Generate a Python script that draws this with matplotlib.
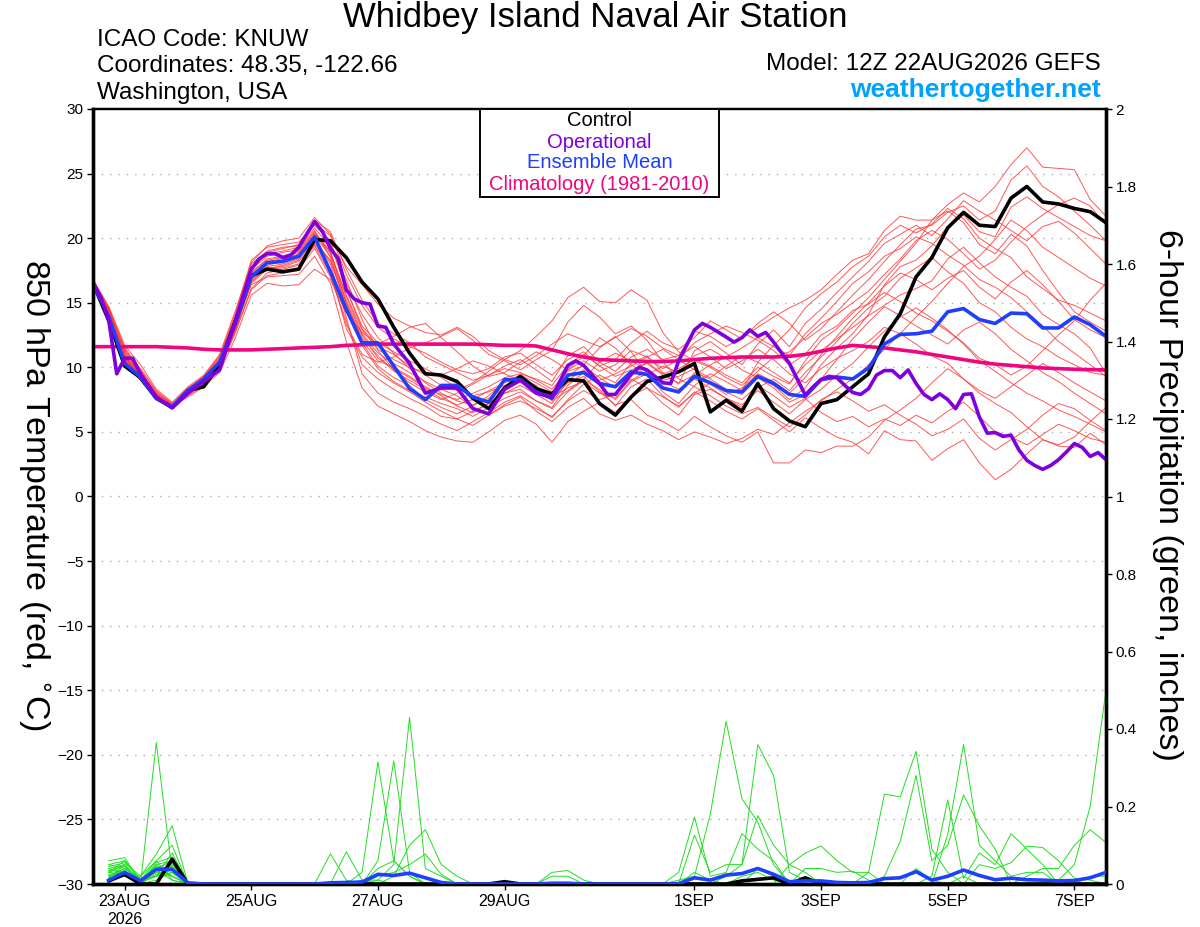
import matplotlib
matplotlib.use("Agg")
import matplotlib.pyplot as plt
from matplotlib.patches import Rectangle
from datetime import datetime
import numpy as np

plt.rcParams['font.family'] = ['Liberation Sans', 'DejaVu Sans']

# ---------------- DATA ----------------
RUN_TIME = datetime(2026, 8, 22, 12)
STEP_H = 6
N_STEPS = 65  # 0..384 h

tick_dates = [datetime(2026, 8, 23), datetime(2026, 8, 25), datetime(2026, 8, 27),
              datetime(2026, 8, 29), datetime(2026, 9, 1), datetime(2026, 9, 3),
              datetime(2026, 9, 5), datetime(2026, 9, 7)]
tick_labels = ["23AUG\n2026", "25AUG", "27AUG", "29AUG", "1SEP", "3SEP", "5SEP", "7SEP"]

control_t = [16.5, 13.6, 10.1, 9.2, 7.6, 6.9, 8.2, 8.5, 10.2, 13.6, 17.1, 17.6, 17.4, 17.6, 19.9, 19.8,
             18.5, 16.6, 15.3, 13.1, 11.1, 9.5, 9.4, 8.9, 7.6, 6.8, 8.4, 9.3, 8.35, 7.95, 9.05, 8.95,
             7.2, 6.3, 7.7, 8.9, 9.25, 9.65, 10.3, 6.55, 7.45, 6.6, 8.75, 6.8, 5.85, 5.4,
             7.2, 7.5, 8.5, 9.5, 12.35, 14.15, 17.0, 18.5, 20.8, 22.0, 21.0, 20.9, 23.1, 24.0, 22.8,
             22.65, 22.3, 22.05, 21.2]

mean_t = [16.5, 13.9, 10.3, 9.25, 7.6, 6.95, 8.2, 9.1, 10.4, 13.4, 17.0, 18.1, 18.2, 18.6, 20.1, 17.4,
          14.5, 11.9, 11.9, 10.1, 8.35, 7.5, 8.6, 8.6, 7.7, 7.3, 9.05, 9.05, 8.1, 7.6, 9.4, 9.6,
          8.75, 8.5, 9.65, 9.45, 8.4, 8.1, 9.3, 8.8, 8.2, 8.1, 9.3, 8.75, 7.9, 7.75,
          9.05, 9.25, 9.1, 9.95, 11.8, 12.55, 12.6, 12.8, 14.3, 14.55, 13.7, 13.4, 14.2, 14.15, 13.05,
          13.05, 13.9, 13.3, 12.4]

clim_t = [11.6, 11.6, 11.6, 11.6, 11.6, 11.55, 11.5, 11.4, 11.35, 11.35, 11.35, 11.4, 11.45, 11.5, 11.55, 11.6,
          11.7, 11.75, 11.8, 11.8, 11.8, 11.8, 11.8, 11.8, 11.8, 11.75, 11.7, 11.7, 11.65, 11.35, 11.05, 10.8,
          10.6, 10.55, 10.5, 10.45, 10.45, 10.5, 10.6, 10.7, 10.75, 10.8, 10.8, 10.8, 10.85, 11.0, 11.25, 11.5,
          11.7, 11.6, 11.5, 11.35, 11.2, 11.0, 10.8, 10.6, 10.4, 10.25, 10.15, 10.05, 9.95, 9.9, 9.85, 9.82, 9.8]

# operational run (3-hourly where detail is visible)
oper_hours = [0, 3, 6, 9, 12, 15, 18, 24, 30, 36, 42, 48, 54, 60, 63, 66, 69, 72, 75, 78, 84, 87, 90, 93,
              96, 99, 102, 105, 108, 111, 114, 120, 126, 132, 138, 144, 150, 156, 162, 168, 174, 180,
              183, 186, 192, 195, 198, 204, 207, 210, 216, 219, 222, 228, 231, 234, 240, 243, 246, 249,
              252, 255, 258, 264, 270, 273, 276, 279, 282, 285, 288, 291, 294, 297, 300, 303, 306, 309,
              312, 315, 318, 321, 324, 327, 330, 333, 336, 339, 342, 345, 348, 351, 354, 357, 360, 363,
              366, 369, 372, 375, 378, 381, 384]
oper_t = [16.6, 15.4, 13.6, 9.5, 10.7, 10.7, 9.5, 7.7, 6.85, 8.0, 8.9, 9.8, 13.6, 17.6, 18.4, 18.8, 18.8,
          18.5, 18.7, 19.3, 21.3, 20.5, 19.2, 18.4, 16.0, 15.3, 15.0, 14.9, 13.2, 13.1, 11.8, 10.3, 8.0,
          8.4, 8.4, 6.8, 6.4, 8.3, 9.0, 8.0, 7.7, 10.15, 10.5, 10.15, 8.75, 7.9, 7.9, 9.45, 10.0, 9.8,
          8.8, 8.75, 10.5, 12.9, 13.4, 13.1, 12.35, 11.95, 12.3, 12.9, 12.4, 12.7, 11.95, 10.3, 7.85,
          8.5, 9.05, 9.3, 9.2, 8.6, 8.05, 7.9, 8.35, 9.4, 9.75, 9.75, 9.2, 9.8, 8.75, 7.9, 7.5, 7.95,
          7.5, 6.8, 7.9, 7.95, 6.15, 4.9, 4.95, 4.65, 4.75, 3.6, 2.8, 2.4, 2.1, 2.4, 2.85, 3.45, 4.1,
          3.8, 3.1, 3.4, 2.85]

member_t = [
    [16.6, 14.5, 11.2, 9.6, 8.0, 7.1, 8.0, 9.2, 10.6, 13.8, 17.5, 18.9, 19.2, 19.5, 21.4, 20.5,
     17.6, 15.2, 13.4, 12.6, 11.9, 10.8, 10.2, 9.6, 9.0, 9.4, 10.1, 10.6, 9.8, 8.9, 10.9, 11.6,
     10.4, 9.7, 10.8, 11.4, 10.6, 10.9, 12.8, 12.4, 11.6, 12.3, 13.1, 13.9, 14.6, 15.2, 16.0, 17.2,
     18.3, 18.8, 20.6, 21.7, 21.4, 21.4, 22.6, 23.5, 22.8, 24.0, 25.7, 27.0, 25.5, 25.4, 25.3, 23.0, 21.7],
    [16.4, 14.0, 10.6, 9.3, 7.6, 6.9, 8.3, 9.0, 10.1, 13.0, 16.6, 17.8, 18.0, 18.4, 20.3, 19.0,
     15.0, 12.1, 10.5, 10.0, 9.3, 8.5, 7.8, 7.0, 6.5, 7.2, 8.0, 8.6, 7.9, 7.2, 9.0, 9.8,
     8.6, 7.5, 8.9, 9.5, 8.4, 8.0, 9.6, 9.1, 8.3, 7.9, 9.2, 8.6, 7.5, 8.4, 10.2, 11.5,
     12.6, 14.1, 16.4, 17.8, 18.3, 19.4, 20.9, 21.8, 20.5, 20.1, 22.4, 23.2, 22.3, 21.6, 20.9, 20.2, 19.8],
    [16.7, 14.6, 11.5, 9.9, 8.2, 7.2, 7.8, 8.6, 9.8, 12.7, 16.1, 17.3, 17.6, 17.9, 19.4, 17.2,
     13.3, 11.0, 10.4, 10.8, 11.5, 11.9, 12.4, 13.0, 12.1, 11.0, 10.5, 9.8, 10.6, 11.3, 13.5, 14.8,
     13.9, 12.6, 13.2, 12.1, 10.4, 9.1, 8.5, 7.8, 7.0, 6.4, 6.9, 6.1, 5.4, 6.3, 7.5, 8.1,
     7.4, 6.6, 7.1, 6.3, 5.6, 4.7, 5.2, 6.0, 4.5, 3.6, 4.4, 5.2, 6.3, 7.2, 6.8, 5.9, 5.1],
    [16.5, 14.3, 10.9, 9.5, 7.9, 7.0, 8.4, 9.3, 10.9, 14.2, 18.3, 19.3, 19.5, 19.7, 21.0, 19.8,
     16.1, 13.0, 11.6, 11.0, 10.1, 9.4, 8.6, 8.2, 8.8, 9.7, 10.6, 11.3, 12.4, 13.6, 15.4, 16.2,
     15.1, 15.0, 16.0, 15.2, 12.7, 11.2, 10.5, 10.0, 9.2, 8.6, 9.7, 10.8, 11.2, 12.3, 13.4, 14.1,
     15.0, 15.9, 17.2, 18.4, 19.8, 20.6, 19.9, 18.8, 17.6, 18.3, 19.7, 20.9, 21.8, 22.6, 23.1, 22.5, 21.0],
    [16.6, 14.1, 10.7, 9.1, 7.7, 7.1, 8.1, 8.8, 10.0, 13.1, 16.9, 17.9, 18.2, 18.5, 20.0, 18.0,
     13.9, 9.5, 8.0, 7.3, 6.8, 6.2, 5.6, 5.1, 5.8, 6.5, 7.3, 7.8, 7.0, 6.1, 7.5, 8.7,
     9.4, 8.8, 10.3, 10.9, 9.6, 8.7, 11.3, 12.0, 11.1, 10.2, 11.8, 12.9, 11.6, 13.4, 14.5, 15.8,
     17.0, 18.2, 19.6, 20.3, 21.0, 20.2, 21.5, 22.9, 22.1, 21.4, 20.6, 19.8, 20.9, 21.3, 20.4, 19.2, 18.0],
    [16.3, 13.8, 10.4, 9.0, 7.5, 6.9, 7.9, 8.9, 10.4, 13.5, 17.2, 18.2, 18.4, 18.7, 20.2, 19.4,
     16.5, 14.1, 12.3, 11.1, 9.9, 8.8, 8.0, 7.4, 7.1, 7.6, 8.4, 9.1, 8.5, 7.9, 9.8, 10.5,
     9.7, 10.2, 11.3, 10.8, 9.9, 10.6, 11.9, 12.6, 13.2, 12.7, 12.1, 11.3, 10.2, 11.0, 12.5, 13.2,
     14.4, 14.9, 15.8, 15.1, 14.2, 13.6, 12.8, 11.9, 10.7, 10.2, 9.4, 10.1, 11.3, 12.5, 13.6, 15.2, 16.5],
    [16.5, 14.4, 11.3, 9.7, 7.8, 7.0, 8.0, 8.7, 10.2, 13.2, 16.4, 17.0, 17.1, 17.2, 18.6, 16.5,
     12.0, 8.4, 7.0, 6.4, 5.8, 5.1, 4.6, 4.3, 4.2, 5.0, 5.9, 6.3, 5.6, 4.2, 5.8, 6.6,
     7.3, 6.5, 7.8, 8.4, 7.2, 6.3, 7.9, 8.3, 7.6, 6.9, 8.4, 9.1, 8.2, 9.6, 10.8, 12.0,
     13.4, 14.6, 15.5, 16.9, 17.7, 18.5, 17.4, 16.5, 15.0, 14.3, 13.1, 12.2, 11.6, 10.8, 10.2, 9.6, 9.4],
    [16.8, 14.7, 11.7, 10.2, 8.3, 7.3, 8.5, 9.4, 11.0, 14.4, 18.0, 19.0, 19.3, 19.4, 21.1, 20.2,
     17.8, 16.4, 14.9, 13.8, 13.2, 12.7, 12.5, 13.1, 12.4, 11.3, 10.6, 10.2, 10.9, 11.8, 12.6, 12.1,
     11.6, 12.3, 13.0, 12.4, 11.5, 10.9, 11.6, 10.8, 9.9, 10.5, 11.4, 10.6, 9.5, 8.8, 9.9, 10.7,
     11.3, 12.0, 13.1, 12.6, 11.8, 10.9, 10.3, 9.1, 8.2, 7.6, 8.5, 9.4, 10.3, 9.6, 8.8, 8.1, 7.4],
    [16.4, 13.9, 10.5, 9.2, 7.6, 7.0, 8.2, 9.1, 10.5, 13.6, 17.3, 18.4, 18.6, 19.0, 20.6, 18.5,
     14.6, 11.9, 10.1, 9.2, 8.6, 7.5, 6.9, 6.4, 7.0, 7.8, 8.9, 9.4, 8.8, 8.1, 9.3, 10.2,
     11.5, 12.4, 11.2, 9.5, 8.1, 7.2, 8.6, 9.5, 8.9, 8.2, 10.4, 11.7, 12.9, 14.6, 15.7, 16.6,
     17.8, 18.6, 20.1, 21.0, 20.4, 21.1, 22.3, 21.5, 20.0, 19.2, 18.5, 17.0, 16.1, 15.2, 14.8, 14.2, 13.6],
    [16.6, 14.2, 10.8, 9.4, 7.7, 7.0, 8.0, 8.9, 10.1, 12.8, 16.0, 17.1, 17.3, 17.6, 19.2, 17.0,
     13.6, 10.2, 9.1, 8.3, 7.6, 7.0, 6.2, 6.0, 6.6, 7.2, 8.0, 8.3, 7.4, 6.8, 8.1, 9.0,
     8.3, 7.0, 8.5, 9.1, 7.8, 6.9, 8.1, 7.4, 6.6, 6.0, 6.8, 5.9, 5.0, 6.1, 5.3, 4.6,
     4.2, 3.3, 5.1, 4.4, 4.3, 2.8, 3.7, 4.4, 2.6, 1.3, 2.1, 3.3, 4.4, 3.9, 3.8, 4.9, 4.0],
    [16.5, 14.0, 10.6, 9.2, 7.9, 7.1, 8.3, 9.0, 10.3, 13.3, 17.0, 18.0, 18.3, 18.8, 20.4, 18.8,
     15.5, 12.6, 11.1, 10.3, 9.6, 8.9, 8.3, 7.8, 6.9, 6.3, 7.1, 7.7, 6.6, 5.8, 6.9, 7.6,
     6.4, 5.9, 6.3, 5.6, 5.1, 4.4, 5.0, 4.6, 4.1, 4.5, 5.2, 4.8, 5.7, 6.6, 7.4, 8.3,
     9.1, 10.2, 11.4, 12.6, 13.9, 15.1, 16.5, 17.8, 18.6, 19.9, 21.4, 20.6, 19.3, 18.5, 17.7, 16.9, 16.3],
    [16.7, 14.5, 11.0, 9.5, 7.8, 7.0, 7.7, 8.5, 9.6, 12.3, 15.6, 16.5, 16.3, 16.4, 17.6, 16.8,
     14.2, 12.7, 11.8, 12.4, 13.1, 13.4, 12.3, 11.2, 10.1, 9.3, 9.6, 10.4, 11.2, 10.6, 9.8, 10.9,
     12.3, 11.5, 10.2, 9.4, 10.1, 9.6, 10.9, 11.4, 10.7, 9.8, 9.2, 8.4, 7.3, 7.9, 9.1, 10.6,
     12.2, 13.5, 14.7, 14.0, 13.2, 12.5, 11.8, 12.9, 13.5, 12.6, 11.4, 10.5, 9.6, 8.9, 8.0, 7.2, 6.4],
    [16.5, 14.3, 10.9, 9.3, 7.7, 6.9, 8.1, 8.9, 10.2, 13.5, 17.6, 18.6, 18.9, 19.1, 20.8, 19.3,
     16.8, 13.7, 11.3, 9.8, 8.8, 8.1, 7.5, 8.0, 8.7, 9.4, 9.9, 9.6, 9.0, 8.3, 9.7, 10.1,
     9.2, 8.4, 9.6, 10.4, 9.5, 9.9, 10.6, 10.1, 9.4, 8.8, 10.0, 9.3, 8.7, 10.5, 12.1, 13.0,
     14.2, 15.4, 16.8, 18.2, 19.6, 21.4, 22.1, 21.2, 19.5, 18.8, 20.3, 19.4, 17.5, 15.8, 14.3, 13.5, 12.8],
    [16.4, 14.1, 10.7, 9.2, 7.6, 7.0, 8.2, 9.2, 10.7, 13.9, 17.8, 18.8, 19.0, 19.3, 21.2, 19.6,
     16.0, 13.2, 11.9, 11.2, 10.5, 9.9, 9.2, 8.4, 7.8, 8.1, 8.6, 8.9, 8.2, 7.6, 8.8, 9.3,
     8.1, 7.1, 7.5, 6.3, 5.8, 5.1, 6.2, 5.4, 4.7, 4.2, 5.0, 2.6, 2.6, 3.6, 3.4, 3.9,
     3.9, 4.6, 5.9, 6.7, 7.6, 8.8, 9.9, 9.1, 8.0, 7.2, 6.5, 5.4, 4.4, 4.0, 4.6, 5.8, 6.9],
    [16.6, 14.4, 11.1, 9.6, 8.0, 7.2, 8.4, 9.1, 10.5, 13.7, 17.4, 18.3, 18.5, 18.9, 20.5, 18.9,
     15.6, 12.9, 11.4, 10.6, 10.0, 9.6, 9.4, 9.9, 10.5, 10.1, 9.5, 9.0, 8.3, 7.7, 8.4, 8.9,
     8.0, 7.6, 9.0, 9.7, 9.0, 9.3, 9.9, 8.7, 7.9, 8.4, 9.5, 8.9, 8.0, 9.2, 11.0, 12.4,
     13.8, 15.0, 16.3, 17.3, 16.8, 16.0, 16.9, 17.5, 16.2, 15.3, 16.6, 17.5, 16.4, 15.1, 13.7, 12.9, 12.3],
    [16.5, 14.2, 10.9, 9.3, 7.7, 7.0, 8.1, 8.8, 10.2, 13.3, 16.8, 17.7, 17.8, 18.2, 19.6, 18.3,
     15.0, 12.3, 10.9, 9.7, 9.0, 8.3, 7.6, 7.1, 7.5, 8.2, 8.8, 9.2, 8.6, 7.4, 8.2, 9.1,
     10.4, 11.1, 10.5, 9.8, 8.9, 8.3, 9.1, 8.4, 7.6, 7.1, 8.2, 7.3, 6.4, 7.5, 8.3, 9.4,
     10.3, 11.6, 12.8, 13.9, 14.6, 13.8, 12.9, 11.8, 10.5, 9.7, 8.8, 8.0, 7.4, 6.7, 6.2, 5.6, 5.0],
    [16.7, 14.6, 11.4, 9.8, 8.1, 7.1, 8.0, 8.8, 9.9, 12.9, 16.5, 17.6, 17.9, 18.3, 19.9, 18.2,
     14.8, 11.7, 9.9, 8.9, 8.2, 7.7, 7.2, 6.8, 6.2, 6.9, 7.6, 8.1, 7.4, 6.9, 8.6, 9.6,
     9.0, 9.5, 10.1, 10.8, 11.4, 10.6, 9.8, 9.2, 10.1, 10.9, 10.4, 9.6, 8.8, 10.2, 11.3, 12.2,
     13.1, 14.0, 14.8, 15.6, 16.1, 16.7, 18.4, 19.3, 18.1, 17.0, 16.2, 15.5, 14.1, 13.3, 12.6, 11.5, 9.5],
    [16.4, 14.0, 10.5, 9.0, 7.5, 6.9, 8.3, 9.3, 10.8, 14.0, 18.1, 19.4, 19.8, 20.0, 21.6, 20.3,
     17.2, 14.8, 13.1, 12.2, 11.6, 11.1, 10.4, 9.8, 9.5, 9.9, 10.8, 11.1, 10.2, 9.4, 10.6, 11.2,
     10.1, 10.6, 11.9, 12.8, 11.9, 11.4, 12.3, 13.6, 12.9, 12.2, 13.4, 14.3, 13.4, 12.1, 13.0, 14.3,
     15.6, 16.8, 18.2, 19.5, 20.7, 21.0, 22.0, 22.5, 21.4, 22.1, 24.5, 25.6, 24.0, 23.2, 22.1, 21.0, 19.8],
    [16.6, 14.3, 10.8, 9.3, 7.8, 7.1, 8.2, 8.9, 10.1, 13.0, 16.7, 17.6, 17.7, 18.0, 19.5, 17.6,
     13.0, 10.8, 9.6, 8.8, 8.1, 7.3, 6.6, 6.0, 5.5, 6.3, 7.0, 7.4, 6.8, 6.2, 7.4, 8.2,
     7.5, 7.9, 9.1, 8.4, 7.7, 7.0, 8.0, 8.8, 8.1, 7.5, 8.6, 7.8, 6.9, 7.6, 6.5, 5.8,
     6.2, 5.4, 6.0, 5.5, 6.3, 5.7, 6.6, 7.3, 6.2, 5.0, 4.6, 4.0, 4.8, 5.6, 5.1, 4.5, 4.2],
    [16.5, 14.1, 10.7, 9.4, 7.8, 7.0, 8.1, 9.0, 10.3, 13.4, 17.1, 18.1, 18.3, 18.6, 20.2, 18.6,
     15.2, 12.5, 10.7, 9.9, 9.2, 8.4, 7.9, 7.5, 8.0, 8.5, 9.2, 9.5, 9.1, 8.6, 10.2, 11.0,
     10.1, 9.3, 9.8, 10.3, 9.4, 8.8, 9.4, 10.2, 10.8, 11.5, 12.3, 11.6, 10.9, 12.6, 13.8, 15.1,
     16.5, 17.4, 18.6, 19.2, 20.1, 19.6, 18.7, 17.9, 16.8, 16.2, 15.4, 14.3, 13.2, 12.0, 11.1, 10.2, 9.3],
]

# 6-hour precipitation (inches), valid hours 6..384; listed hours with non-zero amounts
control_p = {6: 0.008, 12: 0.025, 30: 0.064, 156: 0.006, 246: 0.008, 252: 0.012, 258: 0.016,
             270: 0.016}
mean_p = {6: 0.01, 12: 0.03, 18: 0.008, 24: 0.038, 30: 0.038, 36: 0.003, 90: 0.003, 96: 0.004,
          102: 0.005, 108: 0.025, 114: 0.022, 120: 0.028, 126: 0.016, 132: 0.004, 174: 0.002,
          180: 0.002, 222: 0.001, 228: 0.016, 234: 0.01, 240: 0.023, 246: 0.027, 252: 0.04,
          258: 0.025, 264: 0.006, 270: 0.008, 276: 0.008, 282: 0.004, 288: 0.003, 294: 0.004,
          300: 0.014, 306: 0.016, 312: 0.032, 318: 0.01, 324: 0.02, 330: 0.036, 336: 0.022,
          342: 0.011, 348: 0.015, 354: 0.011, 360: 0.01, 366: 0.008, 372: 0.009, 378: 0.016,
          384: 0.03}
member_p = [
    {6: .05, 12: .06, 18: .01, 24: .02, 30: .04, 222: .01, 228: .02, 234: .18, 240: .42, 246: .22,
     252: .16, 258: .05},
    {6: .03, 12: .05, 24: .365, 30: .03, 90: .078, 96: .01},
    {6: .02, 12: .04, 18: .01, 24: .06, 30: .10, 174: .03, 180: .035, 186: .01, 294: .03,
     300: .232, 306: .225, 312: .342, 318: .09, 324: .03},
    {6: .04, 12: .03, 18: .02, 24: .077, 30: .15, 108: .02, 114: .03, 120: .05, 126: .077, 132: .025},
    {6: .01, 12: .025, 24: .03, 30: .05, 222: .03, 228: .173, 234: .02, 240: .03, 246: .13,
     252: .09, 258: .06},
    {6: .06, 12: .068, 18: .005, 24: .04, 30: .06, 96: .083, 102: .01, 354: .02, 360: .04,
     366: .04, 372: .1, 378: .14, 384: .107},
    {6: .02, 12: .03, 24: .05, 30: .02, 90: .005, 102: .01, 108: .01, 246: .02, 252: .03, 258: .01},
    {6: .035, 12: .045, 18: .01, 24: .02, 30: .08, 270: .04, 276: .04, 282: .03, 288: .033, 294: .01},
    {6: .015, 12: .02, 24: .01, 30: .03, 102: .03, 108: .315, 114: .06, 120: .02, 318: .02,
     324: .217, 330: .015, 336: .08, 342: .05, 348: .13, 354: .09, 360: .05},
    {6: .045, 12: .055, 18: .02, 24: .06, 30: .01, 174: .02, 180: .02, 324: .128, 330: .36,
     336: .1, 342: .06, 348: .02, 354: .03, 360: .03},
    {6: .025, 12: .03, 24: .04, 30: .045, 108: .06, 114: .318, 120: .03, 366: .01, 372: .05,
     378: .2, 384: .5},
    {6: .03, 12: .06, 18: .01, 24: .02, 30: .03, 228: .126, 234: .03, 240: .05, 246: .05,
     252: .176, 258: .10, 264: .05, 270: .03},
    {6: .02, 12: .035, 24: .055, 30: .07, 108: .01, 114: .05, 120: .43, 126: .04, 132: .02,
     378: .02, 384: .02},
    {6: .05, 12: .04, 18: .015, 24: .03, 30: .02, 240: .02, 246: .05, 252: .36, 258: .28,
     264: .03, 270: .01},
    {6: .01, 12: .02, 24: .045, 30: .04, 114: .02, 120: .1, 126: .14, 132: .05, 138: .02},
    {6: .04, 12: .05, 18: .005, 24: .02, 30: .055, 228: .03, 234: .01, 252: .04, 258: .02},
    {6: .03, 12: .025, 24: .035, 30: .01, 108: .04, 114: .06, 120: .02, 336: .05, 342: .04,
     348: .055, 354: .098, 360: .094, 366: .06, 372: .015, 378: .01},
    {6: .02, 12: .04, 18: .01, 24: .05, 30: .06, 264: .05, 270: .08, 276: .098, 282: .06,
     288: .03, 294: .03},
    {6: .035, 12: .03, 24: .025, 30: .035, 312: .04, 318: .01, 330: .02},
    {6: .015, 12: .05, 24: .04, 30: .02, 300: .02, 306: .11, 312: .28, 318: .06, 324: .1,
     330: .23, 336: .15, 342: .09},
]

# ---------------- STYLE ----------------
C_RED = '#ff3b3b'
C_GREEN = '#22dd22'
C_OPER = '#8000dd'
C_MEAN = '#1f3fff'
C_CLIM = '#f0047f'
C_CTRL = '#000000'

hours = np.arange(N_STEPS) * STEP_H
p_hours = hours[1:]


def precip_series(d):
    return [d.get(int(h), 0.0) for h in p_hours]


fig = plt.figure(figsize=(12, 9.27), dpi=100)
ax = fig.add_axes([93 / 1200, 1 - 884 / 927, (1106 - 93) / 1200, (884 - 109) / 927])
ax2 = ax.twinx()

for m in member_t:
    ax.plot(hours, m, color=C_RED, lw=0.7, alpha=0.85, zorder=2)
ax.plot(hours, clim_t, color=C_CLIM, lw=2.6, zorder=4)
ax.plot(hours, control_t, color=C_CTRL, lw=2.6, zorder=5)
ax.plot(hours, mean_t, color=C_MEAN, lw=2.6, zorder=6)
ax.plot(oper_hours, oper_t, color=C_OPER, lw=2.6, zorder=7)

for m in member_p:
    ax2.plot(p_hours, precip_series(m), color=C_GREEN, lw=0.7, zorder=2)
ax2.plot(p_hours, precip_series(control_p), color=C_CTRL, lw=2.6, zorder=5)
ax2.plot(p_hours, precip_series(mean_p), color=C_MEAN, lw=2.6, zorder=6)

ax.set_xlim(0, 384)
ax.set_ylim(-30, 30)
ax2.set_ylim(0, 2)
ax.set_yticks(np.arange(-30, 31, 5))
ax2.set_yticks(np.arange(0, 2.01, 0.2))
ax2.set_yticklabels(['0', '0.2', '0.4', '0.6', '0.8', '1', '1.2', '1.4', '1.6', '1.8', '2'])

for yv in range(-25, 30, 5):
    ax.axhline(yv, color='#aaaaaa', lw=1.0, ls=(0, (1, 5)), zorder=1)

tick_hours = [(d - RUN_TIME).total_seconds() / 3600 for d in tick_dates]
ax.set_xticks(tick_hours)
ax.set_xticklabels(tick_labels, fontsize=11.5, linespacing=1.25)

ax.tick_params(axis='y', labelsize=11, length=4, width=1, pad=3)
ax2.tick_params(axis='y', labelsize=11, length=4, width=1, pad=3)
ax.tick_params(axis='x', length=4, width=1, pad=3)

for a in (ax, ax2):
    a.spines['left'].set_linewidth(2.4)
    a.spines['right'].set_linewidth(2.4)
    a.spines['bottom'].set_linewidth(2.4)
    a.spines['top'].set_linewidth(1.6)
ax.set_zorder(1)
ax2.set_zorder(2)
ax2.patch.set_visible(False)

# axis titles
fig.text(33 / 1200, 1 - 495 / 927, '850 hPa Temperature (red, $^{\\circ}$C)',
         rotation=270, fontsize=24.5, ha='center', va='center')
fig.text(1168 / 1200, 1 - 495 / 927, '6-hour Precipitation (green, inches)', rotation=270,
         fontsize=24.5, ha='center', va='center')

# header texts
fig.text(595 / 1200, 1 - 18 / 927, 'Whidbey Island Naval Air Station', fontsize=25,
         ha='center', va='center')
fig.text(97 / 1200, 1 - 40 / 927, 'ICAO Code: KNUW', fontsize=17.5, ha='left', va='center')
fig.text(97 / 1200, 1 - 66 / 927, 'Coordinates: 48.35, -122.66', fontsize=17.5, ha='left', va='center')
fig.text(97 / 1200, 1 - 93 / 927, 'Washington, USA', fontsize=17.5, ha='left', va='center')
fig.text(1101 / 1200, 1 - 64 / 927, 'Model: 12Z 22AUG2026 GEFS', fontsize=17.5, ha='right', va='center')
fig.text(1101 / 1200, 1 - 90 / 927, 'weathertogether.net', fontsize=19, ha='right', va='center',
         color='#00a2ff', fontweight='bold')

# legend box
lx0, lx1, ly0, ly1 = 480, 719, 109, 197
fig.patches.append(Rectangle((lx0 / 1200, 1 - ly1 / 927), (lx1 - lx0) / 1200, (ly1 - ly0) / 927,
                             transform=fig.transFigure, facecolor='white', edgecolor='black',
                             lw=1.4, zorder=10))
leg_items = [('Control', C_CTRL, 121), ('Operational', C_OPER, 142),
             ('Ensemble Mean', C_MEAN, 163), ('Climatology (1981-2010)', C_CLIM, 185)]
for txt, col, yy in leg_items:
    fig.text((lx0 + lx1) / 2 / 1200, 1 - yy / 927, txt, color=col, fontsize=14.5,
             ha='center', va='center', zorder=11)

fig.savefig('out.png', dpi=100)
